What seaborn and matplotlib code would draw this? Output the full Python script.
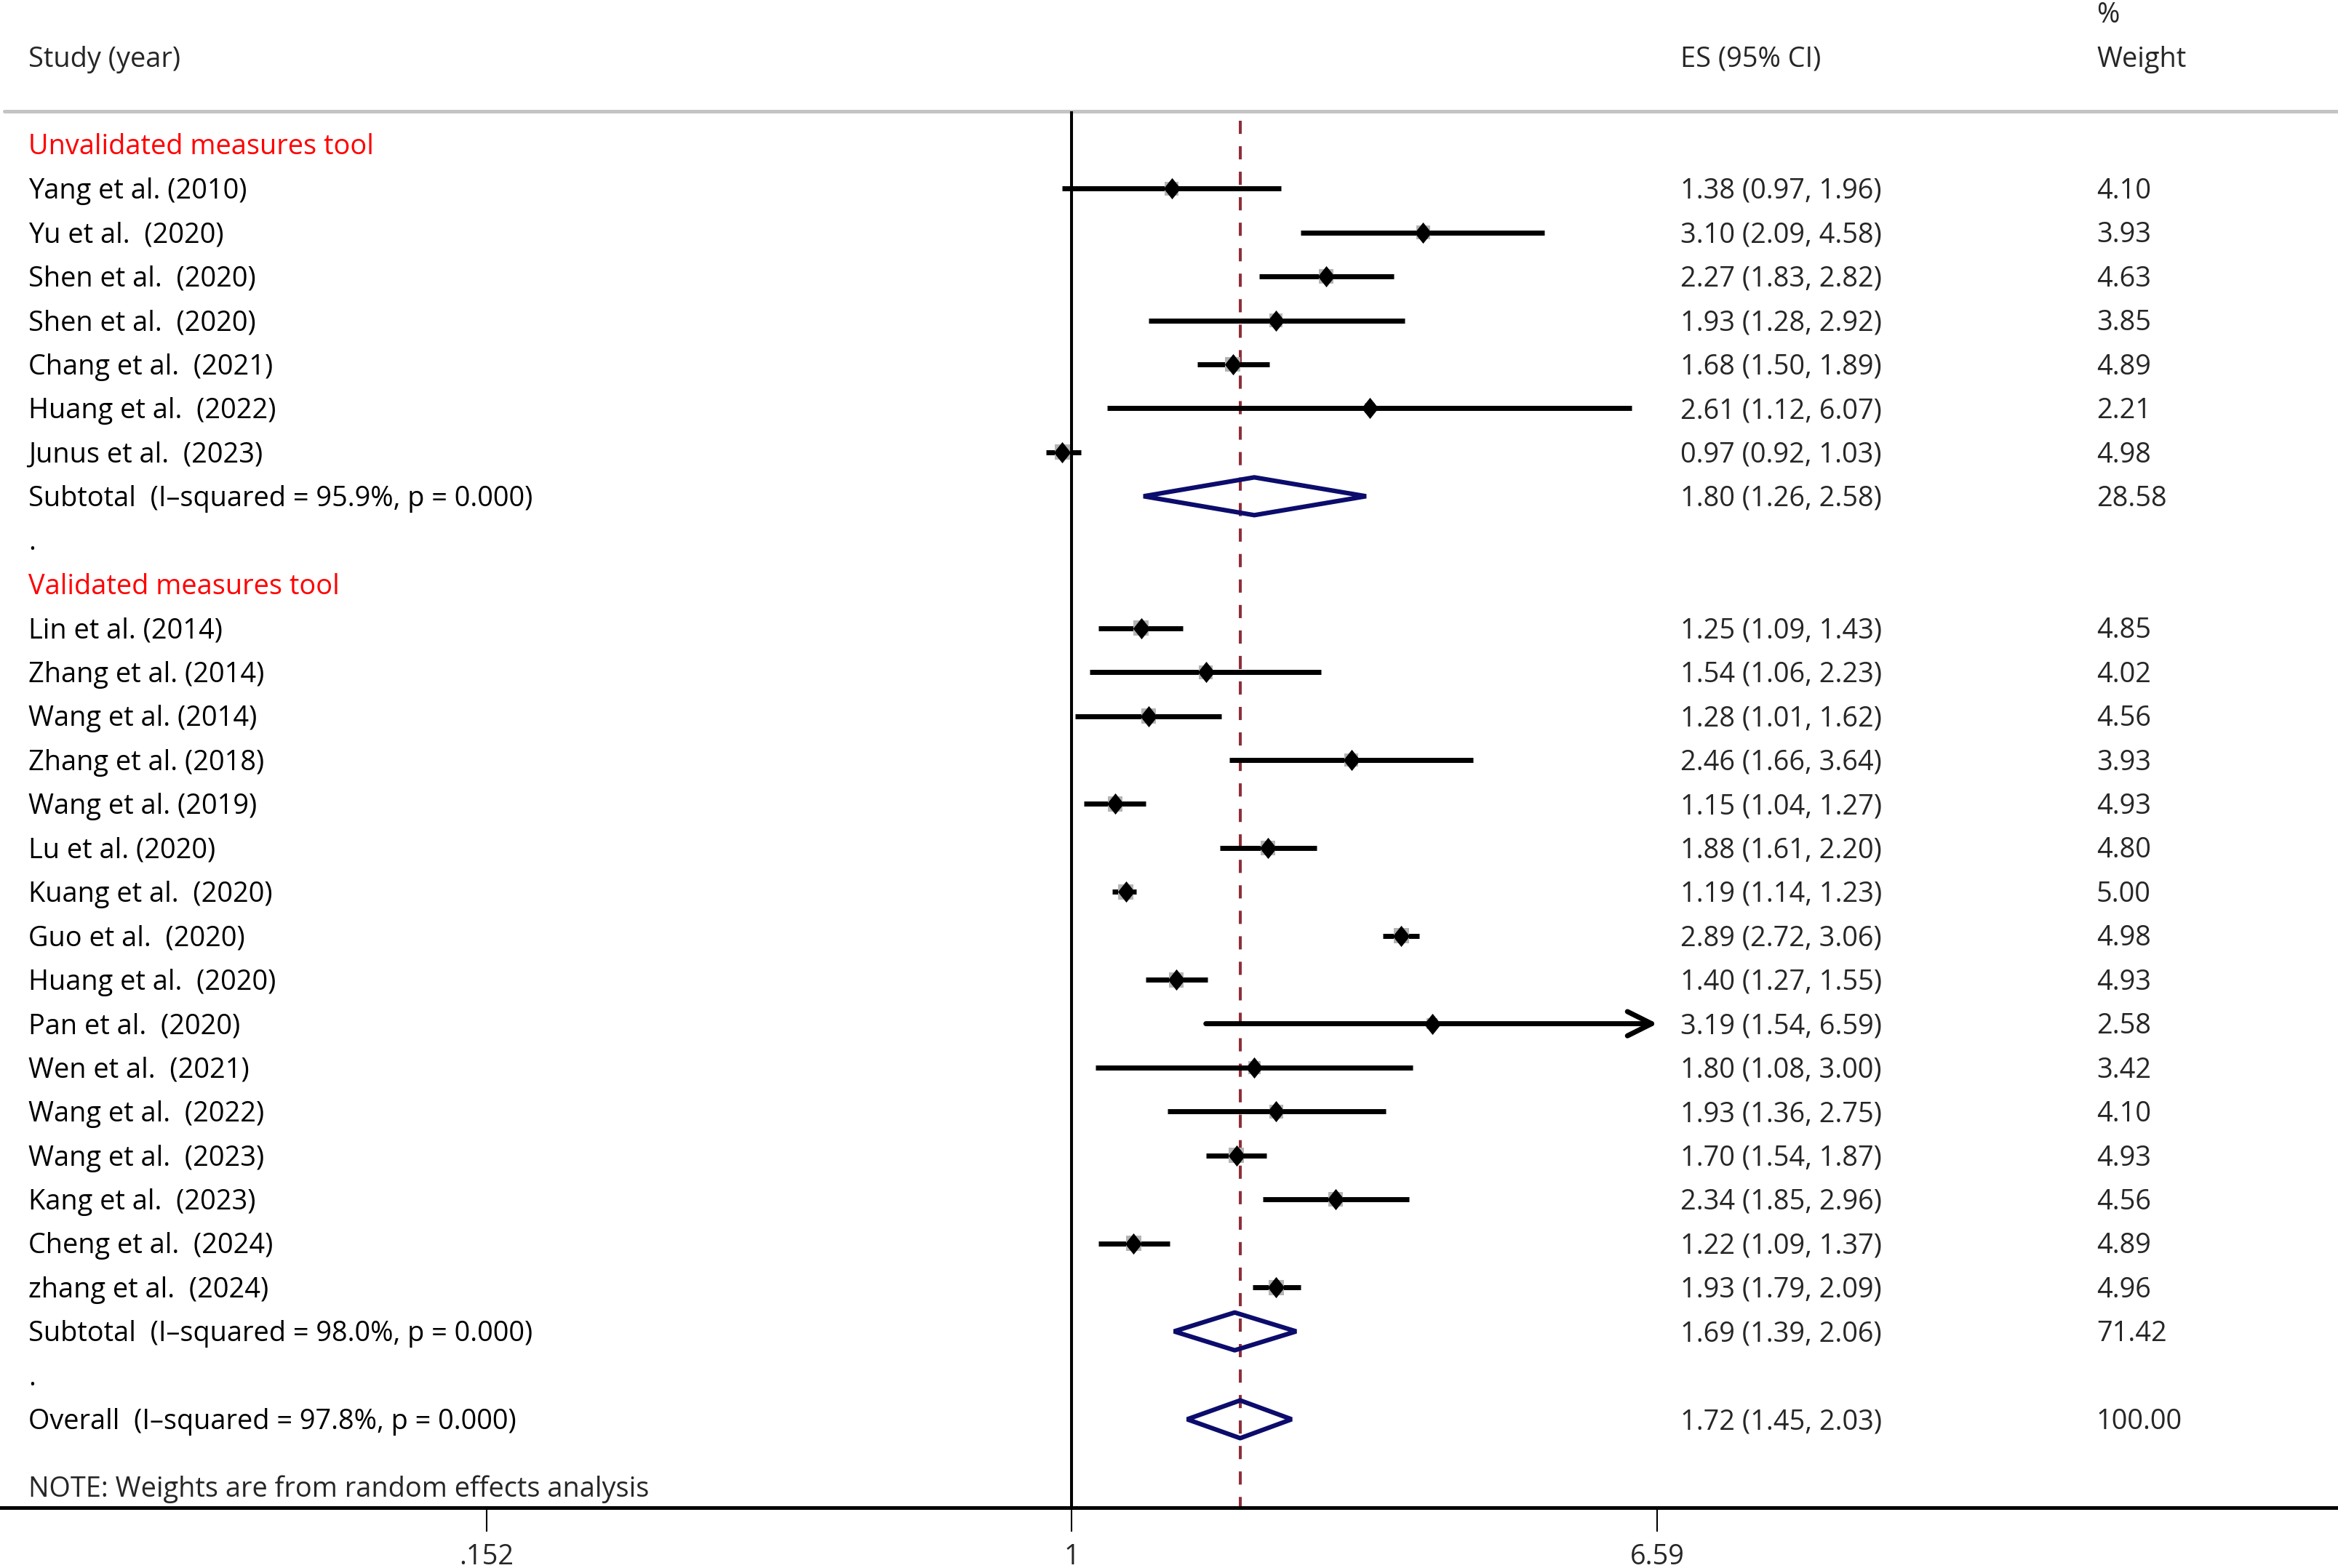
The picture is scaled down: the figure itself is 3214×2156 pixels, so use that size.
import numpy as np
import pandas as pd
import seaborn as sns
import matplotlib.pyplot as plt
from matplotlib.path import Path
from matplotlib.patches import Polygon

# ---- data ----
grp1_studies = ['Yang et al. (2010)', 'Yu et al.  (2020)', 'Shen et al.  (2020)', 'Shen et al.  (2020)',
                'Chang et al.  (2021)', 'Huang et al.  (2022)', 'Junus et al.  (2023)']
grp1_es = [1.38, 3.10, 2.27, 1.93, 1.68, 2.61, 0.97]
grp1_lo = [0.97, 2.09, 1.83, 1.28, 1.50, 1.12, 0.92]
grp1_hi = [1.96, 4.58, 2.82, 2.92, 1.89, 6.07, 1.03]
grp1_wt = [4.10, 3.93, 4.63, 3.85, 4.89, 2.21, 4.98]

grp2_studies = ['Lin et al. (2014)', 'Zhang et al. (2014)', 'Wang et al. (2014)', 'Zhang et al. (2018)',
                'Wang et al. (2019)', 'Lu et al. (2020)', 'Kuang et al.  (2020)', 'Guo et al.  (2020)',
                'Huang et al.  (2020)', 'Pan et al.  (2020)', 'Wen et al.  (2021)', 'Wang et al.  (2022)',
                'Wang et al.  (2023)', 'Kang et al.  (2023)', 'Cheng et al.  (2024)', 'zhang et al.  (2024)']
grp2_es = [1.25, 1.54, 1.28, 2.46, 1.15, 1.88, 1.19, 2.89, 1.40, 3.19, 1.80, 1.93, 1.70, 2.34, 1.22, 1.93]
grp2_lo = [1.09, 1.06, 1.01, 1.66, 1.04, 1.61, 1.14, 2.72, 1.27, 1.54, 1.08, 1.36, 1.54, 1.85, 1.09, 1.79]
grp2_hi = [1.43, 2.23, 1.62, 3.64, 1.27, 2.20, 1.23, 3.06, 1.55, 6.59, 3.00, 2.75, 1.87, 2.96, 1.37, 2.09]
grp2_wt = [4.85, 4.02, 4.56, 3.93, 4.93, 4.80, 5.00, 4.98, 4.93, 2.58, 3.42, 4.10, 4.93, 4.56, 4.89, 4.96]

group_names = ['Unvalidated measures tool', 'Validated measures tool']
sub_es = [1.80, 1.69]
sub_lo = [1.26, 1.39]
sub_hi = [2.58, 2.06]
sub_wt = [28.58, 71.42]
sub_isq = [95.9, 98.0]

overall_es, overall_lo, overall_hi = 1.72, 1.45, 2.03
overall_isq = 97.8

xticks = [0.152, 1, 6.59]
xtick_labels = ['.152', '1', '6.59']

# ---- build row table ----
rows = []
groups = [(grp1_studies, grp1_es, grp1_lo, grp1_hi, grp1_wt),
          (grp2_studies, grp2_es, grp2_lo, grp2_hi, grp2_wt)]
for g, (names, es, lo, hi, wt) in enumerate(groups):
    rows.append(dict(kind='head', label=group_names[g]))
    for n, e, l, h, w in zip(names, es, lo, hi, wt):
        rows.append(dict(kind='study', label=n, es=e, lo=l, hi=h, wt=w))
    rows.append(dict(kind='sub', label=f'Subtotal  (I\u2013squared = {sub_isq[g]:.1f}%, p = 0.000)',
                     es=sub_es[g], lo=sub_lo[g], hi=sub_hi[g], wt=sub_wt[g]))
    rows.append(dict(kind='dot', label='.'))
rows.append(dict(kind='sub', label=f'Overall  (I\u2013squared = {overall_isq:.1f}%, p = 0.000)',
                 es=overall_es, lo=overall_lo, hi=overall_hi, wt=100.00))
df = pd.DataFrame(rows)
df['row'] = np.arange(len(df))
studies = df[df.kind == 'study']

sns.set_theme(style='white')
plt.rcParams['font.family'] = ['Open Sans', 'DejaVu Sans']
FS = 27.3
DY = 0.06  # small nudge so text centres sit on the marker rows

fig = plt.figure(figsize=(32.14, 21.56), dpi=100)
ax = fig.add_axes([0, 83 / 2156, 1, 1 - 83 / 2156])
ax.set_xscale('log')
ax.set_xlim(0.0317, 59.0)
ax.set_ylim(31.01, -3.29)

xmax_tick = xticks[-1]
trans = ax.get_yaxis_transform()  # x in axes fraction, y in data

# reference lines
ax.vlines(1, -0.76, 31.01, color='black', lw=2.9, zorder=2)
ax.vlines(overall_es, -0.55, 31.01, color='#8c2f3a', lw=2.9, linestyles=(0, (4.5, 4.2)), zorder=2)
ax.axhline(-0.76, xmin=3 / 1568, xmax=1, color='#c4c4c4', lw=3.6, zorder=1)

# confidence intervals
for _, r in studies.iterrows():
    if r.hi >= xmax_tick:
        ax.annotate('', xy=(xmax_tick, r.row), xytext=(r.lo, r.row),
                    arrowprops=dict(arrowstyle='->', lw=5, color='black', shrinkA=0, shrinkB=0,
                                    mutation_scale=60), zorder=3)
    else:
        ax.hlines(r.row, r.lo, r.hi, color='black', lw=5, zorder=3)

# weight boxes and point estimates
ax.scatter(studies.es, studies.row, s=46 * studies.wt, marker='s', color='#b4b4b4',
           linewidths=0, zorder=4)
diamond = Path([(0, 1), (0.8, 0), (0, -1), (-0.8, 0), (0, 1)],
               [Path.MOVETO, Path.LINETO, Path.LINETO, Path.LINETO, Path.CLOSEPOLY])
sns.scatterplot(data=studies, x='es', y='row', marker=diamond, s=440, color='black',
                linewidth=0, ax=ax, zorder=5, legend=False)

# pooled diamonds
for _, r in df[df.kind == 'sub'].iterrows():
    h = 0.43
    ax.add_patch(Polygon([(r.lo, r.row), (r.es, r.row - h), (r.hi, r.row), (r.es, r.row + h)],
                         closed=True, fill=False, edgecolor='#0c0c6c', lw=4.5, zorder=6,
                         joinstyle='bevel'))

# text columns
for _, r in df.iterrows():
    col = 'red' if r.kind == 'head' else 'black'
    ax.text(0.0121, r.row + DY, r.label, transform=trans, fontsize=FS, color=col,
            va='center', ha='left')
    if r.kind in ('study', 'sub'):
        ax.text(0.7188, r.row + DY, f'{r.es:.2f} ({r.lo:.2f}, {r.hi:.2f})', transform=trans,
                fontsize=FS, va='center', ha='left')
        ax.text(0.8967, r.row + DY, f'{r.wt:.2f}', transform=trans, fontsize=FS,
                va='center', ha='left')

ax.text(0.0121, 30.53 + DY, 'NOTE: Weights are from random effects analysis', transform=trans,
        fontsize=FS, va='center', ha='left')
ax.text(0.0121, -2.0 + DY, 'Study (year)', transform=trans, fontsize=FS, va='center', ha='left')
ax.text(0.7188, -2.0 + DY, 'ES (95% CI)', transform=trans, fontsize=FS, va='center', ha='left')
ax.text(0.8967, -2.0 + DY, 'Weight', transform=trans, fontsize=FS, va='center', ha='left')
ax.text(0.8967, -3.0 + DY, '%', transform=trans, fontsize=FS, va='center', ha='left')

# axis styling
for s in ['top', 'right', 'left']:
    ax.spines[s].set_visible(False)
ax.spines['bottom'].set_linewidth(3.6)
ax.spines['bottom'].set_color('black')
ax.set_yticks([])
ax.set_xticks(xticks)
ax.set_xticklabels(xtick_labels)
ax.minorticks_off()
ax.tick_params(axis='x', which='major', direction='out', length=24, width=1.5, color='black',
               labelsize=FS, pad=11, bottom=True)
ax.set_xlabel('')
ax.set_ylabel('')
ax.grid(False)

fig.savefig('out.png', dpi=100)
